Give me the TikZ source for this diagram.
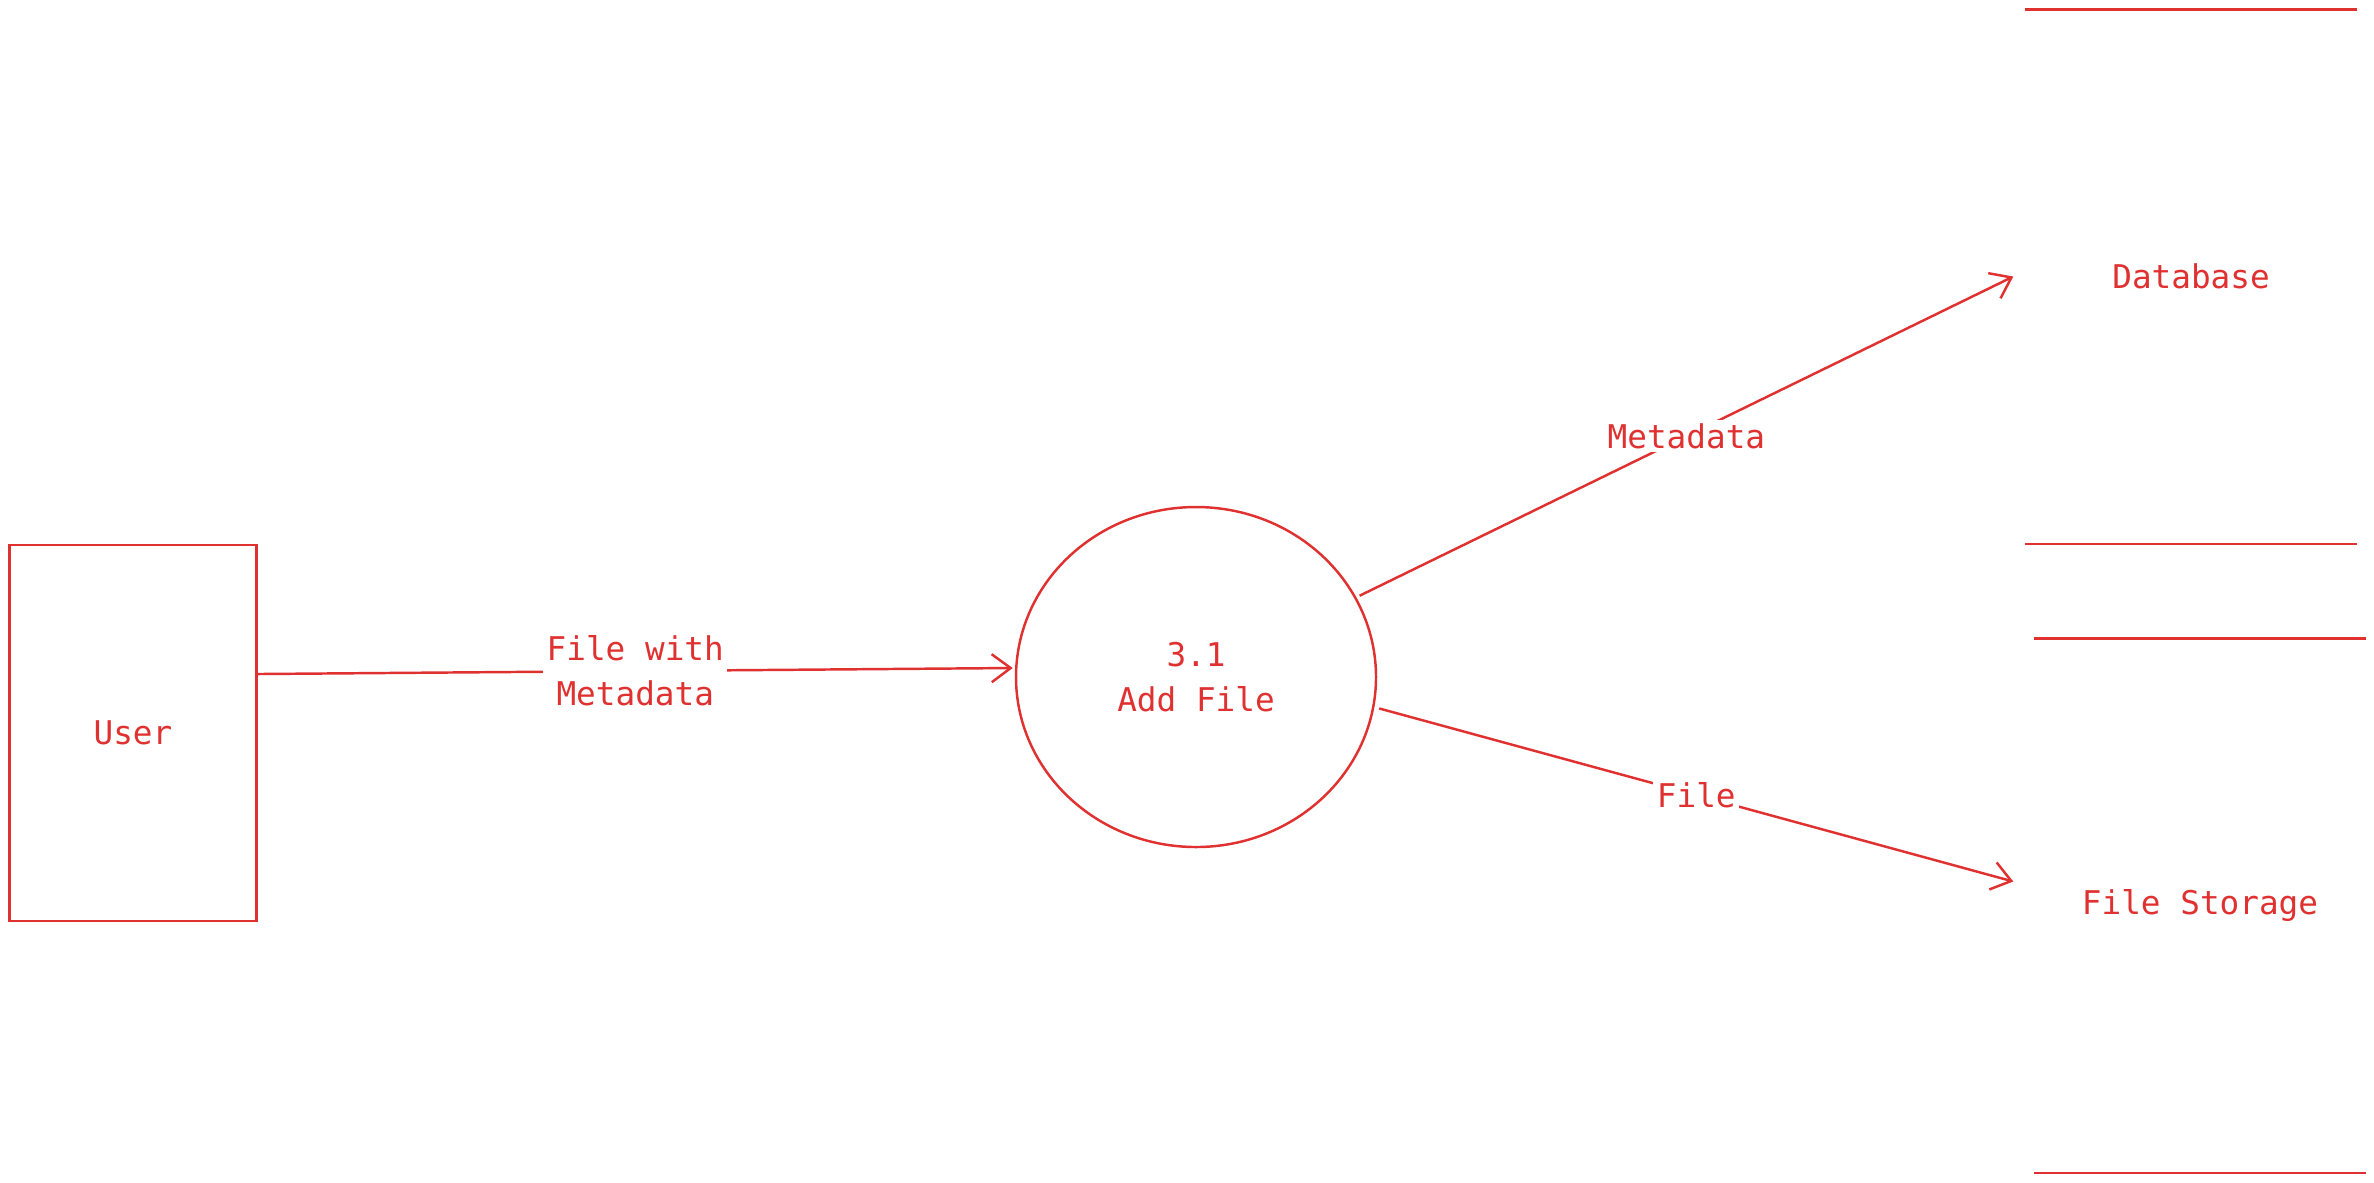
\documentclass[tikz,border=0pt]{standalone}
\usepackage{fontspec}
\setmainfont{DejaVu Sans Mono}
\usetikzlibrary{arrows.meta,shapes.geometric}
\definecolor{flowred}{HTML}{E03131}
\begin{document}
\begin{tikzpicture}[x=1cm,y=1cm,
    every node/.style={text=flowred,font=\fontsize{9.3}{12.8}\selectfont},
    entity/.style={draw=flowred,line width=0.7pt,rectangle,minimum width=2.47cm,minimum height=3.76cm},
    process/.style={draw=flowred,line width=0.7pt,ellipse,minimum width=3.6cm,minimum height=3.4cm,align=center},
    store/.style={rectangle,minimum width=3.3cm,minimum height=5.33cm},
    flow/.style={draw=flowred,line width=0.7pt,-{Straight Barb[length=1.9mm,width=2.8mm]}},
    flowlabel/.style={fill=white,inner sep=1pt,align=center}]
    \useasboundingbox (0,0) rectangle (23.74,-11.82);
    \node[entity] (user) at (1.33,-7.33) {User};
    \node[process] (addfile) at (11.96,-6.77) {3.1\\Add File};
    \node[store] (db) at (21.91,-2.765) {Database};
    \node[store] (fstore) at (22.0,-9.055) {File Storage};
    % data store lines
    \draw[flowred,line width=0.7pt] (db.north west) -- (db.north east)
        (db.south west) -- (db.south east);
    \draw[flowred,line width=0.7pt] (fstore.north west) -- (fstore.north east)
        (fstore.south west) -- (fstore.south east);
    % flows
    \draw[flow] ([yshift=5.9mm]user.east) -- node[flowlabel] {File with\\Metadata}
        ([yshift=0.9mm,xshift=-0.2mm]addfile.west);
    \draw[flow] ([xshift=0.4mm]addfile.27) -- node[flowlabel] {Metadata}
        ([xshift=-1.2mm]db.west);
    \draw[flow] ([xshift=0.5mm]addfile.-10) -- node[flowlabel] {File}
        ([xshift=-2.1mm,yshift=2.4mm]fstore.west);
\end{tikzpicture}
\end{document}
